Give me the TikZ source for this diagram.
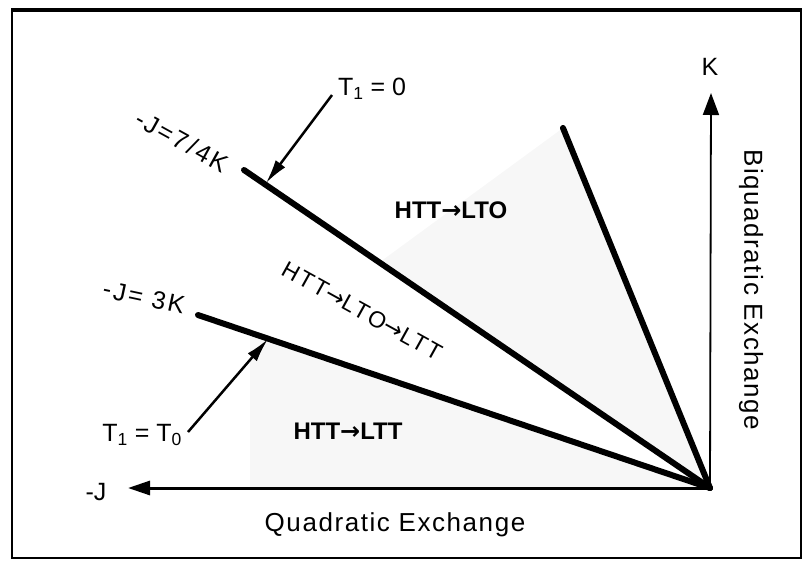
\documentclass[tikz,border=0pt]{standalone}
\usepackage{fontspec}
\setmainfont{Liberation Sans}
\newfontfamily\widesans[LetterSpace=6]{Liberation Sans}
\newfontfamily\handsans[LetterSpace=10]{Liberation Sans}
\newfontfamily\arrowfont{DejaVu Sans}
\newcommand{\tto}{{\arrowfont →}}
\usetikzlibrary{arrows.meta}
\tikzset{
	axislabel/.style={font=\fontsize{25}{30}\selectfont, inner sep=0pt},
	titlelabel/.style={font=\widesans\fontsize{26}{30}\selectfont, inner sep=0pt},
	handlabel/.style={font=\handsans\fontsize{25}{30}\selectfont, inner sep=0pt},
	phaselabel/.style={font=\bfseries\fontsize{24}{28}\selectfont, inner sep=0pt},
	boundary/.style={line width=6pt, line cap=round},
	pointer/.style={line width=2.5pt, -{Latex[length=24pt,width=12pt]}},
}
\begin{document}
\begin{tikzpicture}[x=1pt, y=-1pt]
				\useasboundingbox (0,0) rectangle (804,563);
				\coordinate (O) at (710,488);
				\coordinate (kTip) at (711,93);
				\coordinate (jTip) at (128,488);
				\coordinate (s) at (563,128);
				\coordinate (a) at (244,170);
				\coordinate (b) at (198,315);
				\coordinate (ta) at (266,183);
				\coordinate (tb) at (268,339);
				\coordinate (sa) at (332,95);
				\coordinate (sb) at (188,432);
				\fill[black!3] (O) -- (250,333) -- (250,488) -- cycle;
				\fill[black!3] (O) -- (380,262) -- (s) -- cycle;
				\draw[line width=2pt] (12,10) rectangle (801,558);
				\draw[line width=4pt] (11,10) -- (802,10);
				\node[axislabel] (K) at (710,67) {K};
				\node[axislabel] (J) at (96,492) {-J};
				\node[titlelabel, rotate=-90] (biq) at (751,290) {Biquadratic Exchange};
				\node[titlelabel] (quad) at (395,525) {Quadratic Exchange};
				\node[axislabel, anchor=west] (t1z) at (338,89) {T\textsubscript{1} = 0};
				\node[axislabel, anchor=east] (t1t0) at (182,435) {T\textsubscript{1} = T\textsubscript{0}};
				\node[handlabel, rotate=-29] (la) at (182,141) {-J=7/4K};
				\node[handlabel, rotate=-12] (lb) at (144,297) {-J= 3K};
				\node[handlabel, font=\handsans\fontsize{23}{27}\selectfont, rotate=-29] (mid) at (362,311) {HTT\tto LTO\tto LTT};
				\node[phaselabel] (lto) at (451,210) {HTT\tto LTO};
				\node[phaselabel] (ltt) at (348,431) {HTT\tto LTT};
				\draw[line width=3pt, -{Triangle[length=22pt,width=14pt]}] (O) -- (jTip);
				\draw[line width=1.8pt, -{Triangle[length=22pt,width=16pt]}] (O) -- (kTip);
				\begin{scope}[boundary]
					\draw (s) -- (O);
					\draw (a) -- (O);
					\draw (b) -- (O);
				\end{scope}
				\draw[pointer] (sa) -- (ta);
				\draw[pointer] (sb) -- (tb);
			\end{tikzpicture}
\end{document}
